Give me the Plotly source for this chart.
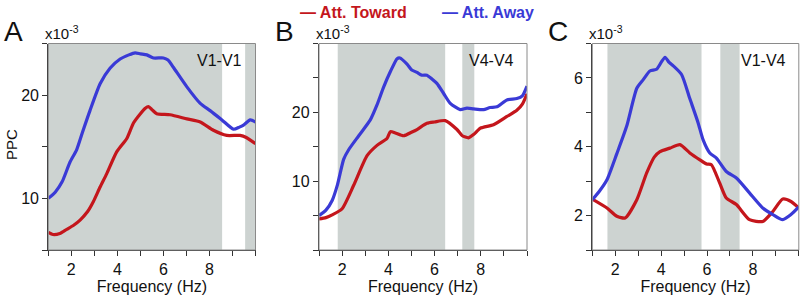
import plotly.graph_objects as go

W, H = 800, 295

# ---------------- data (PPC values in units of 1e-3) ----------------
a_blue_f = [1.0, 1.3, 1.6, 1.94, 2.23, 2.5, 2.81, 3.25, 3.68, 4.12, 4.5, 4.77, 5.0, 5.28, 5.57, 6.0, 6.2, 6.43, 7.02, 7.6, 8.03, 8.54, 9.04, 9.3, 9.48, 9.77, 10.0]
a_blue_v = [10.0, 10.6, 11.6, 13.5, 14.7, 16.5, 18.5, 21.1, 22.6, 23.5, 23.9, 24.1, 24.0, 23.9, 23.6, 23.6, 23.4, 22.7, 20.8, 19.2, 18.5, 17.6, 16.7, 16.9, 17.1, 17.6, 17.4]
a_red_f = [1.0, 1.2, 1.5, 1.8, 2.1, 2.38, 2.7, 2.96, 3.25, 3.54, 3.97, 4.41, 4.7, 5.0, 5.2, 5.35, 5.5, 5.71, 6.29, 7.02, 7.6, 8.17, 8.75, 9.33, 9.6, 10.0]
a_red_v = [6.7, 6.5, 6.6, 7.0, 7.4, 7.9, 8.7, 9.7, 11.1, 12.4, 14.5, 15.8, 17.3, 18.2, 18.7, 18.9, 18.6, 18.2, 18.1, 17.7, 17.4, 16.6, 16.1, 16.1, 15.9, 15.3]

b_blue_f = [1.0, 1.3, 1.57, 1.8, 2.07, 2.29, 2.72, 3.22, 3.5, 3.8, 4.1, 4.38, 4.5, 4.81, 5.0, 5.24, 5.45, 5.67, 5.9, 6.1, 6.4, 6.68, 7.11, 7.4, 7.69, 8.12, 8.4, 8.7, 9.13, 9.56, 9.8, 10.0]
b_blue_v = [5.0, 5.8, 7.2, 9.5, 13.2, 14.6, 16.6, 18.9, 21.0, 23.7, 26.0, 27.8, 27.9, 27.0, 26.2, 25.8, 25.4, 25.4, 24.8, 24.2, 22.7, 21.3, 20.4, 20.6, 20.5, 20.4, 20.7, 20.8, 21.8, 22.0, 22.4, 23.8]
b_red_f = [1.0, 1.3, 1.57, 2.0, 2.5, 3.08, 3.51, 3.94, 4.09, 4.3, 4.66, 5.0, 5.24, 5.67, 6.0, 6.46, 6.97, 7.2, 7.47, 7.7, 7.98, 8.55, 9.13, 9.56, 9.8, 10.0]
b_red_v = [4.5, 4.7, 5.1, 6.0, 9.4, 13.7, 15.2, 16.2, 17.2, 17.0, 16.6, 17.1, 17.5, 18.4, 18.6, 18.8, 17.5, 16.6, 16.3, 16.8, 17.7, 18.2, 19.4, 20.3, 21.2, 22.7]

c_blue_f = [1.0, 1.3, 1.64, 2.07, 2.5, 2.94, 3.22, 3.51, 3.8, 4.0, 4.17, 4.35, 4.53, 4.89, 5.25, 5.61, 5.83, 6.12, 6.41, 6.84, 7.28, 7.85, 8.43, 8.87, 9.3, 9.66, 10.0]
c_blue_v = [2.46, 2.7, 3.04, 3.8, 4.6, 5.7, 5.95, 6.2, 6.25, 6.45, 6.6, 6.45, 6.35, 6.1, 5.4, 4.7, 4.2, 3.82, 3.67, 3.28, 3.09, 2.66, 2.22, 2.03, 1.88, 2.03, 2.25]
c_red_f = [1.0, 1.64, 2.07, 2.43, 2.94, 3.37, 3.7, 3.95, 4.38, 4.82, 5.25, 5.69, 5.98, 6.19, 6.55, 6.84, 7.28, 7.85, 8.43, 8.87, 9.3, 9.66, 10.0]
c_red_v = [2.48, 2.22, 1.98, 1.93, 2.46, 3.24, 3.7, 3.86, 3.96, 4.06, 3.82, 3.62, 3.5, 3.48, 2.95, 2.51, 2.32, 1.88, 1.83, 2.12, 2.48, 2.41, 2.22]

# significant frequency bands (gray shading), Hz
a_bands = [(1.0, 8.55), (9.55, 10.0)]
b_bands = [(1.81, 6.46), (7.2, 7.72)]
c_bands = [(1.66, 5.76), (6.58, 7.42)]

panel_letters = ["A", "B", "C"]
pair_labels = ["V1-V1", "V4-V4", "V1-V4"]
series_names = ["Att. Toward", "Att. Away"]
x_major = [2, 4, 6, 8]
x_minor = [1, 3, 5, 7, 9, 10]
a_ymajor, a_yminor = [10, 20], [5, 15, 25]
b_ymajor, b_yminor = [10, 20], [0, 5, 15, 25, 30]
c_ymajor, c_yminor = [2, 4, 6], [1, 3, 5, 7]
y_ranges = [(5, 25), (0, 30), (1, 7)]

# ---------------- styling ----------------
RED = "#c4161c"
BLUE = "#3a3ad6"
SHADE = "#cdd3d1"
FONT = "Liberation Sans, Arial, sans-serif"
TXT = "#111111"

def px(x):
    return x / W

def py(y):
    return 1 - y / H

x_doms = [(48.3, 255.5), (319.0, 527.0), (592.3, 798.8)]
y_top, y_bot = 43.5, 250.0

fig = go.Figure()

panels = [
    (a_red_f, a_red_v, a_blue_f, a_blue_v, a_bands, a_ymajor, a_yminor),
    (b_red_f, b_red_v, b_blue_f, b_blue_v, b_bands, b_ymajor, b_yminor),
    (c_red_f, c_red_v, c_blue_f, c_blue_v, c_bands, c_ymajor, c_yminor),
]

layout_upd = {}
for i, (rf, rv, bf, bv, bands, ymaj, ymin) in enumerate(panels):
    n = "" if i == 0 else str(i + 1)
    xa, ya = "x" + n, "y" + n
    fig.add_trace(go.Scatter(x=rf, y=rv, mode="lines", name=series_names[0],
                             line=dict(color=RED, width=3.2, shape="spline", smoothing=0.6),
                             xaxis=xa, yaxis=ya, showlegend=False))
    fig.add_trace(go.Scatter(x=bf, y=bv, mode="lines", name=series_names[1],
                             line=dict(color=BLUE, width=3.2, shape="spline", smoothing=0.6),
                             xaxis=xa, yaxis=ya, showlegend=False))
    for (b0, b1) in bands:
        fig.add_shape(type="rect", xref=xa, yref=ya + " domain", x0=b0, x1=b1, y0=0, y1=1,
                      fillcolor=SHADE, line=dict(width=0), layer="below")
    # light frame
    fig.add_shape(type="rect", xref=xa + " domain", yref=ya + " domain", x0=0, x1=1, y0=0, y1=1,
                  line=dict(color="#8a8a8a", width=1), layer="above")
    xd = x_doms[i]
    layout_upd["xaxis" + n] = dict(
        domain=[px(xd[0]), px(xd[1])], range=[1, 10], anchor=ya,
        tickmode="array", tickvals=x_major, ticks="outside", ticklen=5,
        tickwidth=1.3, tickcolor="#333",
        minor=dict(tickmode="array", tickvals=x_minor, ticks="outside", ticklen=5,
                   tickwidth=1.3, tickcolor="#333", showgrid=False),
        showline=True, linecolor="#333", linewidth=1.3,
        showgrid=False, zeroline=False, tickfont=dict(size=16, color=TXT, family=FONT),
        title=dict(text="Frequency (Hz)", font=dict(size=16, color=TXT, family=FONT), standoff=1),
    )
    layout_upd["yaxis" + n] = dict(
        domain=[py(y_bot), py(y_top)], range=list(y_ranges[i]), anchor=xa,
        tickmode="array", tickvals=ymaj, ticks="outside", ticklen=5,
        tickwidth=1.3, tickcolor="#333",
        minor=dict(tickmode="array", tickvals=ymin, ticks="outside", ticklen=5,
                   tickwidth=1.3, tickcolor="#333", showgrid=False),
        showline=True, linecolor="#333", linewidth=1.3,
        showgrid=False, zeroline=False, tickfont=dict(size=16, color=TXT, family=FONT),
    )
    # panel letter
    fig.add_annotation(text=panel_letters[i], xref="paper", yref="paper",
                       x=px(xd[0] - 46), y=py(32), xanchor="left", yanchor="middle",
                       showarrow=False, font=dict(size=28, color=TXT, family=FONT))
    # x10^-3
    fig.add_annotation(text="x10<sup>-3</sup>", xref="paper", yref="paper",
                       x=px(xd[0] - 5.5), y=py(44), xanchor="left", yanchor="bottom",
                       showarrow=False, font=dict(size=15, color=TXT, family=FONT))
    # pair label
    fig.add_annotation(text=pair_labels[i], xref="paper", yref="paper",
                       x=px(xd[1] - 11), y=py(61), xanchor="right", yanchor="middle",
                       showarrow=False, font=dict(size=16, color=TXT, family=FONT))

# y-axis title for panel A
fig.add_annotation(text="PPC", xref="paper", yref="paper", x=px(11), y=py(145),
                   xanchor="center", yanchor="middle", textangle=-90, showarrow=False,
                   font=dict(size=15, color=TXT, family=FONT))

# legend (as annotations)
fig.add_annotation(text="<b>— " + series_names[0] + "</b>", xref="paper", yref="paper",
                   x=px(298), y=py(12), xanchor="left", yanchor="middle", showarrow=False,
                   font=dict(size=16, color=RED, family=FONT))
fig.add_annotation(text="<b>— " + series_names[1] + "</b>", xref="paper", yref="paper",
                   x=px(440), y=py(12), xanchor="left", yanchor="middle", showarrow=False,
                   font=dict(size=16, color=BLUE, family=FONT))

fig.update_layout(
    width=W, height=H, margin=dict(l=0, r=0, t=0, b=0),
    paper_bgcolor="white", plot_bgcolor="white",
    font=dict(family=FONT, color=TXT),
    **layout_upd,
)

fig.write_html("out.html", config={"displayModeBar": False},
               post_script="document.body.style.margin='0';document.body.style.padding='0';")
